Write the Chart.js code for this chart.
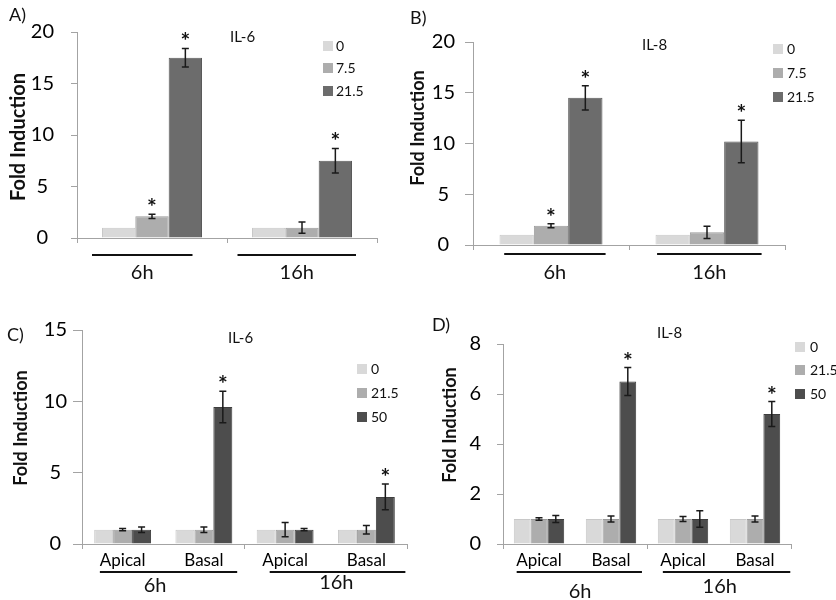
<!DOCTYPE html>
<html>
<head>
<meta charset="utf-8">
<script src="https://cdn.jsdelivr.net/npm/chart.js@4.4.1/dist/chart.umd.min.js"></script>
<style>
  body { margin: 0; background: #fff; width: 836px; height: 600px; position: relative; overflow: hidden; }
  canvas { position: absolute; }
</style>
</head>
<body>
<canvas id="chartA" width="400" height="300" style="left:0;top:0"></canvas>
<canvas id="chartB" width="436" height="300" style="left:400px;top:0"></canvas>
<canvas id="chartC" width="420" height="310" style="left:0;top:290px"></canvas>
<canvas id="chartD" width="416" height="310" style="left:420px;top:290px"></canvas>
<script>
// categories
const timeLabels = ['6h', '16h'];
const siteLabels = ['Apical', 'Basal', 'Apical', 'Basal'];
const dosesAB = ['0', '7.5', '21.5'];
const dosesCD = ['0', '21.5', '50'];

// A) IL-6, one row per dose
const valsA = [[1, 1], [2.1, 1.0], [17.5, 7.5]];
const errsA = [[0, 0], [0.2, 0.55], [0.9, 1.2]];
const starsA = [[false, false], [true, false], [true, true]];

// B) IL-8
const valsB = [[1, 1], [1.9, 1.25], [14.5, 10.2]];
const errsB = [[0, 0], [0.2, 0.6], [1.2, 2.1]];
const starsB = [[false, false], [true, false], [true, true]];

// C) IL-6 apical / basal
const valsC = [[1, 1, 1, 1], [1, 1, 1, 1], [1, 9.6, 1, 3.3]];
const errsC = [[0, 0, 0, 0], [0.08, 0.2, 0.5, 0.3], [0.2, 1.1, 0.08, 0.9]];
const starsC = [[false, false, false, false], [false, false, false, false], [false, true, false, true]];

// D) IL-8 apical / basal
const valsD = [[1, 1, 1, 1], [1, 1, 1, 1], [1, 6.5, 1, 5.2]];
const errsD = [[0, 0, 0, 0], [0.05, 0.12, 0.1, 0.12], [0.14, 0.56, 0.33, 0.5]];
const starsD = [[false, false, false, false], [false, false, false, false], [false, true, false, true]];

Chart.defaults.font.family = 'Lato';
Chart.defaults.color = '#000';

const AXIS = '#a3a3a3';
const FILL_AB = ['#d9d9d9', '#adadad', '#6c6c6c'];
const EDGE_AB = ['#c8c8c8', '#9b9b9b', '#5a5a5a'];
const FILL_CD = ['#d9d9d9', '#adadad', '#4d4d4d'];
const EDGE_CD = ['#c8c8c8', '#9b9b9b', '#3e3e3e'];

const makeDecor = (p) => ({
  id: 'decor',
  afterDatasetsDraw(chart) {
    const ctx = chart.ctx;
    const y = chart.scales.y;
    ctx.save();
    chart.data.datasets.forEach((ds, di) => {
      chart.getDatasetMeta(di).data.forEach((bar, i) => {
        const v = ds.data[i];
        const e = ds.errors[i];
        let top = y.getPixelForValue(v);
        if (e > 0) {
          const y1 = y.getPixelForValue(v + e);
          const y2 = y.getPixelForValue(v - e);
          ctx.strokeStyle = '#1a1a1a';
          ctx.lineWidth = 1.5;
          ctx.beginPath();
          ctx.moveTo(bar.x, y1);
          ctx.lineTo(bar.x, y2);
          ctx.moveTo(bar.x - 3.5, y1);
          ctx.lineTo(bar.x + 3.5, y1);
          ctx.moveTo(bar.x - 3.5, y2);
          ctx.lineTo(bar.x + 3.5, y2);
          ctx.stroke();
          top = y1;
        }
        if (ds.stars[i]) {
          ctx.fillStyle = '#111';
          ctx.font = 'bold 23px Lato';
          ctx.textAlign = 'center';
          ctx.textBaseline = 'alphabetic';
          ctx.fillText('*', bar.x, top + 1);
        }
      });
    });
    ctx.restore();
  },
  afterDraw(chart) {
    const ctx = chart.ctx;
    const x = chart.scales.x;
    ctx.save();
    ctx.fillStyle = '#111';
    ctx.textBaseline = 'middle';

    // panel tag and cytokine name
    ctx.textAlign = 'left';
    ctx.font = '18px Lato';
    ctx.fillText(p.tag, p.tagPos[0], p.tagPos[1]);
    ctx.font = '15px Lato';
    ctx.fillText(p.title, p.titlePos[0], p.titlePos[1]);

    // y title
    ctx.save();
    ctx.translate(p.yTitlePos[0], p.yTitlePos[1]);
    ctx.rotate(-Math.PI / 2);
    ctx.textAlign = 'center';
    ctx.font = `bold ${p.yTitleSize}px Lato`;
    ctx.fillText('Fold Induction', 0, 0);
    ctx.restore();

    // legend
    chart.data.datasets.forEach((ds, i) => {
      const ly = p.legend.ys[i];
      ctx.fillStyle = ds.backgroundColor;
      ctx.fillRect(p.legend.x, ly - 5, 10, 10);
      ctx.fillStyle = '#111';
      ctx.font = '14px Lato';
      ctx.textAlign = 'left';
      ctx.fillText(ds.label, p.legend.textX, ly);
    });

    // time brackets under the axis
    p.brackets.forEach((b) => {
      const x1 = x.getPixelForValue(b.from);
      const x2 = x.getPixelForValue(b.to);
      ctx.strokeStyle = '#111';
      ctx.lineWidth = 2;
      ctx.beginPath();
      ctx.moveTo(x1, p.bracketY);
      ctx.lineTo(x2, p.bracketY);
      ctx.stroke();
      ctx.font = '20px Lato';
      ctx.textAlign = 'center';
      const lx = b.at === undefined ? (x1 + x2) / 2 : x.getPixelForValue(b.at);
      ctx.fillText(b.label, lx, b.y);
    });
    ctx.restore();
  },
});

const makeChart = (p) => {
  const canvas = document.getElementById(p.id);
  return new Chart(canvas, {
    type: 'bar',
    data: {
      labels: p.labels,
      datasets: p.doses.map((d, i) => ({
        label: d,
        data: p.values[i],
        errors: p.errors[i],
        stars: p.stars[i],
        backgroundColor: p.fills[i],
        borderColor: p.edges[i],
        borderWidth: 1,
        categoryPercentage: p.catPct,
        barPercentage: 1,
      })),
    },
    options: {
      responsive: false,
      animation: false,
      layout: { padding: { left: 0, top: p.area.t, right: canvas.width - p.area.r, bottom: 0 } },
      plugins: { legend: { display: false }, tooltip: { enabled: false } },
      scales: {
        x: {
          grid: {
            drawOnChartArea: false,
            tickLength: 5,
            color: (c) => (p.labels.length > 2 && (c.index === 1 || c.index === 3) ? 'rgba(0,0,0,0)' : AXIS),
          },
          border: { color: AXIS },
          ticks: { display: p.showTicks, font: { size: 17 }, padding: 1 },
          afterFit: (s) => { s.height = canvas.height - p.area.b; },
        },
        y: {
          min: 0,
          max: p.yMax,
          grid: { drawOnChartArea: false, tickLength: p.yTick, color: AXIS },
          border: { color: AXIS },
          ticks: { stepSize: p.yStep, font: { size: 20 }, padding: p.yPad, crossAlign: 'center' },
          afterFit: (s) => { s.width = p.area.l; },
        },
      },
    },
    plugins: [makeDecor(p)],
  });
};

makeChart({
  id: 'chartA', labels: timeLabels, doses: dosesAB, values: valsA, errors: errsA, stars: starsA,
  fills: FILL_AB, edges: EDGE_AB, catPct: 0.667, showTicks: false,
  area: { l: 77, t: 32, r: 377, b: 238 }, yMax: 20, yStep: 5, yTick: 6, yPad: 17,
  tag: 'A)', tagPos: [9, 15], title: 'IL-6', titlePos: [230, 37],
  yTitlePos: [19, 137], yTitleSize: 20,
  legend: { x: 323, textX: 336, ys: [46, 68, 91] },
  bracketY: 255,
  brackets: [
    { from: -0.4, to: 0.27, label: '6h', y: 273 },
    { from: 0.57, to: 1.36, label: '16h', y: 273 },
  ],
});

makeChart({
  id: 'chartB', labels: timeLabels, doses: dosesAB, values: valsB, errors: errsB, stars: starsB,
  fills: FILL_AB, edges: EDGE_AB, catPct: 0.66, showTicks: false,
  area: { l: 73, t: 42, r: 385, b: 245 }, yMax: 20, yStep: 5, yTick: 8, yPad: 10,
  tag: 'B)', tagPos: [10, 18], title: 'IL-8', titlePos: [242, 45],
  yTitlePos: [18, 128], yTitleSize: 18,
  legend: { x: 373, textX: 387, ys: [49, 73, 97] },
  bracketY: 254,
  brackets: [
    { from: -0.3, to: 0.35, label: '6h', y: 273 },
    { from: 0.68, to: 1.35, label: '16h', y: 273 },
  ],
});

makeChart({
  id: 'chartC', labels: siteLabels, doses: dosesCD, values: valsC, errors: errsC, stars: starsC,
  fills: FILL_CD, edges: EDGE_CD, catPct: 0.7, showTicks: true,
  area: { l: 82, t: 40, r: 407, b: 254 }, yMax: 15, yStep: 5, yTick: 9, yPad: 6,
  tag: 'C)', tagPos: [7, 45], title: 'IL-6', titlePos: [228, 48],
  yTitlePos: [21, 138], yTitleSize: 18,
  legend: { x: 357, textX: 371, ys: [79, 103, 127] },
  bracketY: 282,
  brackets: [
    { from: -0.28, to: 1.41, label: '6h', at: 0.4, y: 296 },
    { from: 1.81, to: 3.48, label: '16h', at: 2.63, y: 293 },
  ],
});

makeChart({
  id: 'chartD', labels: siteLabels, doses: dosesCD, values: valsD, errors: errsD, stars: starsD,
  fills: FILL_CD, edges: EDGE_CD, catPct: 0.7, showTicks: true,
  area: { l: 83, t: 54, r: 371, b: 254 }, yMax: 8, yStep: 2, yTick: 6, yPad: 16,
  tag: 'D)', tagPos: [12, 35], title: 'IL-8', titlePos: [237, 43],
  yTitlePos: [30, 135], yTitleSize: 18,
  legend: { x: 375, textX: 390, ys: [57, 80, 104] },
  bracketY: 282,
  brackets: [
    { from: -0.31, to: 1.43, label: '6h', at: 0.57, y: 302 },
    { from: 1.72, to: 3.49, label: '16h', at: 2.51, y: 297 },
  ],
});
</script>
</body>
</html>
